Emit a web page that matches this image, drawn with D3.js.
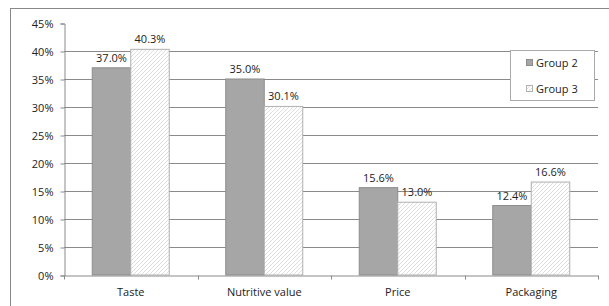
<!DOCTYPE html>
<html>
<head>
<meta charset="utf-8">
<script src="https://cdn.jsdelivr.net/npm/d3@7"></script>
<style>
  body { margin: 0; background: #fff; }
  text { font-family: "Open Sans", "Liberation Sans", sans-serif; font-size: 11px; fill: #222; }
</style>
</head>
<body>
<svg id="chart" width="609" height="306"></svg>
<script>
var categories = ["Taste", "Nutritive value", "Price", "Packaging"];
var seriesNames = ["Group 2", "Group 3"];
var group2 = [37.0, 35.0, 15.6, 12.4];
var group3 = [40.3, 30.1, 13.0, 16.6];
var yTicks = [0, 5, 10, 15, 20, 25, 30, 35, 40, 45];

var svg = d3.select("#chart");
var plotLeft = 64, plotRight = 598, plotTop = 23, plotBottom = 275;

// outer frame (runs off the right and bottom edge)
svg.append("rect")
    .attr("x", 10.5).attr("y", 8.5)
    .attr("width", 620).attr("height", 320)
    .attr("fill", "none").attr("stroke", "#888");

// hatch pattern
var defs = svg.append("defs");
var pat = defs.append("pattern")
    .attr("id", "hatch")
    .attr("patternUnits", "userSpaceOnUse")
    .attr("width", 4).attr("height", 4);
pat.append("rect").attr("width", 4).attr("height", 4).attr("fill", "#fff");
pat.append("path")
    .attr("d", "M-1,1 l2,-2 M0,4 l4,-4 M3,5 l2,-2")
    .attr("stroke", "#dadada").attr("stroke-width", 0.9);

var x = d3.scaleBand().domain(categories).range([plotLeft, plotRight]);
var y = d3.scaleLinear().domain([0, 45]).range([plotBottom, plotTop]);

// gridlines (none at top)
svg.append("g").selectAll("line")
    .data(yTicks.filter(function (t) { return t > 0 && t < 45; }))
    .enter().append("line")
    .attr("x1", plotLeft).attr("x2", plotRight)
    .attr("y1", function (d) { return Math.round(y(d)) + 0.5; })
    .attr("y2", function (d) { return Math.round(y(d)) + 0.5; })
    .attr("stroke", "#8a8a8a");

// y axis
var yAxis = svg.append("g")
    .attr("transform", "translate(" + (plotLeft + 0.5) + ",0.5)")
    .call(d3.axisLeft(y).tickValues(yTicks).tickSize(4).tickPadding(7)
        .tickFormat(function (d) { return d + "%"; }));
yAxis.select(".domain").attr("stroke", "#8a8a8a");
yAxis.selectAll(".tick line").attr("stroke", "#8a8a8a");
yAxis.attr("font-family", null).attr("font-size", null);
yAxis.selectAll("text").attr("fill", "#222");

// x axis
var xAxis = svg.append("g")
    .attr("transform", "translate(0," + (plotBottom + 0.5) + ")")
    .call(d3.axisBottom(x).tickSize(0).tickPadding(13));
xAxis.attr("font-family", null).attr("font-size", null);
xAxis.select(".domain").attr("stroke", "#8a8a8a");
xAxis.selectAll(".tick text").attr("fill", "#222");
xAxis.selectAll(".boundary")
    .data(d3.range(categories.length + 1))
    .enter().append("line")
    .attr("x1", function (i) { return Math.round(plotLeft + i * x.step()) + 0.5; })
    .attr("x2", function (i) { return Math.round(plotLeft + i * x.step()) + 0.5; })
    .attr("y1", 0).attr("y2", 4)
    .attr("stroke", "#8a8a8a");

// bars
var barW = 38.5;
var x1 = d3.scaleBand().domain(seriesNames).range([0, barW * 2]);
var fills = ["#a6a6a6", "url(#hatch)"];
var strokes = ["#8c8c8c", "#b0b0b0"];
var series = [group2, group3];

series.forEach(function (vals, s) {
    var g = svg.append("g");
    g.selectAll("rect")
        .data(vals)
        .enter().append("rect")
        .attr("x", function (d, i) { return x(categories[i]) + x.bandwidth() / 2 - barW + x1(seriesNames[s]); })
        .attr("y", function (d) { return y(d); })
        .attr("width", x1.bandwidth())
        .attr("height", function (d) { return plotBottom - y(d); })
        .attr("fill", fills[s])
        .attr("stroke", strokes[s]);
    g.selectAll("text")
        .data(vals)
        .enter().append("text")
        .attr("text-anchor", "middle")
        .attr("x", function (d, i) { return x(categories[i]) + x.bandwidth() / 2 - barW + x1(seriesNames[s]) + x1.bandwidth() / 2; })
        .attr("y", function (d) { return y(d) - 6; })
        .text(function (d) { return d.toFixed(1) + "%"; });
});

// legend
var lg = svg.append("g");
lg.append("rect")
    .attr("x", 510.5).attr("y", 50.5).attr("width", 84).attr("height", 50)
    .attr("fill", "#fff").attr("stroke", "#aaa");
seriesNames.forEach(function (name, i) {
    lg.append("rect")
        .attr("x", 526.5).attr("y", 59.5 + i * 26).attr("width", 6).attr("height", 6)
        .attr("fill", fills[i]).attr("stroke", strokes[i]);
    lg.append("text")
        .attr("x", 536).attr("y", 67 + i * 26)
        .text(name);
});
</script>
</body>
</html>
